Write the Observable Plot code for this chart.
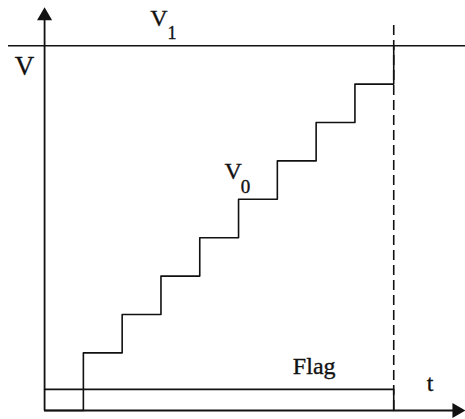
<!DOCTYPE html>
<html>
<head>
<meta charset="utf-8">
<script src="https://cdn.jsdelivr.net/npm/d3@7"></script>
<script src="https://cdn.jsdelivr.net/npm/@observablehq/plot@0.6"></script>
<style>
  html, body { margin: 0; padding: 0; background: #fff; }
  svg { display: block; }
</style>
</head>
<body>
<div id="chart"></div>
<script>
// Staircase ramp V0 climbing toward the threshold V1, with the Flag signal.
const stepTimes = [0, 1, 2, 3, 4, 5, 6, 7, 8, 9];
const v0Levels  = [0, 1.5, 2.5, 3.5, 4.5, 5.5, 6.5, 7.5, 8.5, 9.5];
const v1Level   = 9.5;
const flagHigh  = 0.55;
const tEnd      = 9;       // V0 reaches V1 here, Flag drops
const tAxisMax  = 10.85;   // tip of the t arrow
const vAxisMax  = 10.5;    // tip of the V arrow

const ink = "#111";
const serif = "Liberation Serif, Times New Roman, serif";

const v0 = stepTimes.map((t, i) => ({t, v: v0Levels[i]}));
const flag = [{t: 0, v: flagHigh}, {t: tEnd, v: 0}];

// shared look of the text labels (slightly heavier than plain regular)
const label = {text: d => d, lineAnchor: "bottom", fill: ink, stroke: ink, strokeWidth: 0.35};

const chart = Plot.plot({
  width: 465,
  height: 419,
  marginLeft: 8,
  marginRight: 0,
  marginTop: 6.8,
  marginBottom: 9,
  x: {domain: [-0.93, tAxisMax], axis: null},
  y: {domain: [0, vAxisMax], axis: null},
  style: {fontFamily: serif, background: "#fff", color: ink},
  marks: [
    // axes
    Plot.ruleX([0], {y1: 0, y2: vAxisMax - 0.2, stroke: ink, strokeWidth: 1.8}),
    Plot.ruleY([0], {x1: 0, x2: tAxisMax - 0.2, stroke: ink, strokeWidth: 1.8}),
    Plot.dot([{t: 0, v: vAxisMax}], {x: "t", y: "v", symbol: "triangle", r: 5.6, dy: 8.7, fill: ink, stroke: "none"}),
    Plot.dot([{t: tAxisMax, v: 0}], {x: "t", y: "v", symbol: "triangle", r: 5.6, rotate: 90, dx: -8.7, fill: ink, stroke: "none"}),
    // threshold V1
    Plot.ruleY([v1Level], {x1: -0.93, x2: tAxisMax, stroke: ink, strokeWidth: 1.6}),
    // end-of-conversion marker
    Plot.ruleX([tEnd], {y1: 0, y2: 10.13, stroke: ink, strokeWidth: 1.6, strokeDasharray: "10,5"}),
    // staircase V0
    Plot.line(v0, {x: "t", y: "v", curve: "step-after", stroke: ink, strokeWidth: 1.6}),
    // Flag signal
    Plot.line(flag, {x: "t", y: "v", curve: "step-after", stroke: ink, strokeWidth: 1.6}),
    // labels
    Plot.text(["V"], {...label, x: 0, y: v1Level, dx: -20, dy: 29, fontSize: 27}),
    Plot.text(["V"], {...label, x: 3, y: v1Level, dx: -2, dy: -20, fontSize: 24}),
    Plot.text(["1"], {...label, x: 3, y: v1Level, dx: 11, dy: -7, fontSize: 18}),
    Plot.text(["V"], {...label, x: 5, y: v0Levels[5], dx: -5.5, dy: -20, fontSize: 24}),
    Plot.text(["0"], {...label, x: 5, y: v0Levels[5], dx: 7, dy: -6, fontSize: 19}),
    Plot.text(["Flag"], {...label, x: 6.95, y: flagHigh, dy: -15, fontSize: 24}),
    Plot.text(["t"], {...label, x: 9.94, y: 0, dy: -20, fontSize: 24})
  ]
});

document.getElementById("chart").appendChild(chart);
</script>
</body>
</html>
